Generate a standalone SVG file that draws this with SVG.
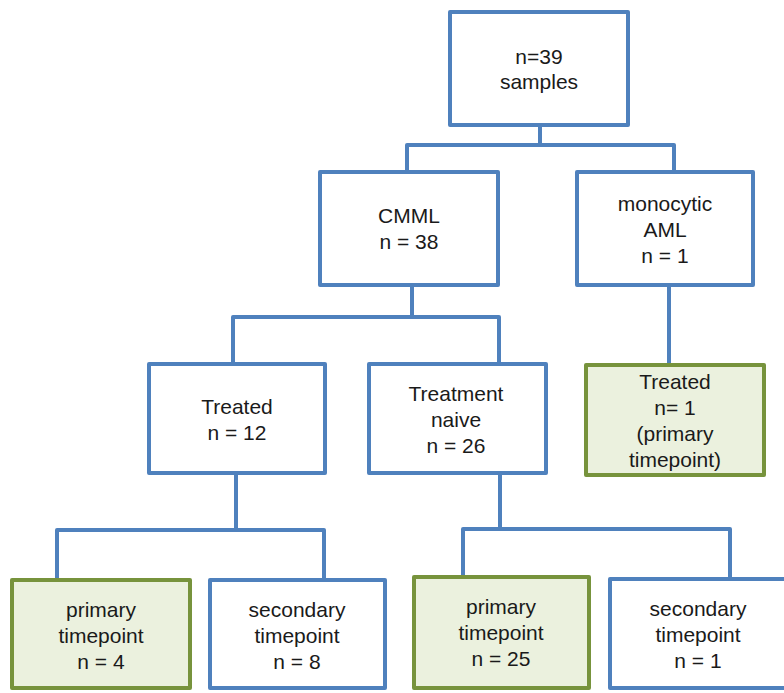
<svg xmlns="http://www.w3.org/2000/svg" width="784" height="693" viewBox="0 0 784 693">
<style>
.box{fill:#ffffff;stroke:#4f81bd;stroke-width:4;stroke-linejoin:round}
.gbox{fill:#ebf1de;stroke:#77933c;stroke-width:4;stroke-linejoin:round}
.conn{fill:none;stroke:#4f81bd;stroke-width:4;stroke-linejoin:round}
text{font-family:"Liberation Sans",Arial,sans-serif;font-size:21px;fill:#1a1a1a;text-anchor:middle}
</style>
<rect width="784" height="693" fill="#ffffff"/>
<g id="connectors">
<path class="conn" d="M540,127V145M407,170V145H674V170"/>
<path class="conn" d="M412,287V317M233,362V317H499V362"/>
<path class="conn" d="M669,287V363"/>
<path class="conn" d="M236,475V530M57,578V530H324V578"/>
<path class="conn" d="M500,475V529M463,575V529H730V577"/>
</g>
<g id="root">
<rect class="box" x="450" y="12" width="178" height="113"/>
<text x="539" y="64">n=39</text>
<text x="539" y="89">samples</text>
</g>
<g id="cmml">
<rect class="box" x="320" y="172" width="178" height="113"/>
<text x="409" y="223">CMML</text>
<text x="409" y="249">n = 38</text>
</g>
<g id="aml">
<rect class="box" x="577" y="172" width="176" height="113"/>
<text x="665" y="211">monocytic</text>
<text x="665" y="237">AML</text>
<text x="665" y="263">n = 1</text>
</g>
<g id="treated">
<rect class="box" x="149" y="364" width="176" height="109"/>
<text x="237" y="414">Treated</text>
<text x="237" y="440">n = 12</text>
</g>
<g id="naive">
<rect class="box" x="369" y="364" width="177" height="109"/>
<text x="456" y="401">Treatment</text>
<text x="456" y="427">naive</text>
<text x="456" y="453">n = 26</text>
</g>
<g id="aml-treated">
<rect class="gbox" x="586" y="365" width="178" height="110"/>
<text x="675" y="389">Treated</text>
<text x="675" y="415">n= 1</text>
<text x="675" y="441">(primary</text>
<text x="675" y="467">timepoint)</text>
</g>
<g id="treated-primary">
<rect class="gbox" x="12" y="580" width="178" height="108"/>
<text x="101" y="617">primary</text>
<text x="101" y="643">timepoint</text>
<text x="101" y="669">n = 4</text>
</g>
<g id="treated-secondary">
<rect class="box" x="210" y="580" width="175" height="108"/>
<text x="297" y="617">secondary</text>
<text x="297" y="643">timepoint</text>
<text x="297" y="669">n = 8</text>
</g>
<g id="naive-primary">
<rect class="gbox" x="414" y="577" width="175" height="111"/>
<text x="501" y="614">primary</text>
<text x="501" y="640">timepoint</text>
<text x="501" y="666">n = 25</text>
</g>
<g id="naive-secondary">
<rect class="box" x="610" y="579" width="176" height="109"/>
<text x="698" y="616">secondary</text>
<text x="698" y="642">timepoint</text>
<text x="698" y="668">n = 1</text>
</g>
</svg>
